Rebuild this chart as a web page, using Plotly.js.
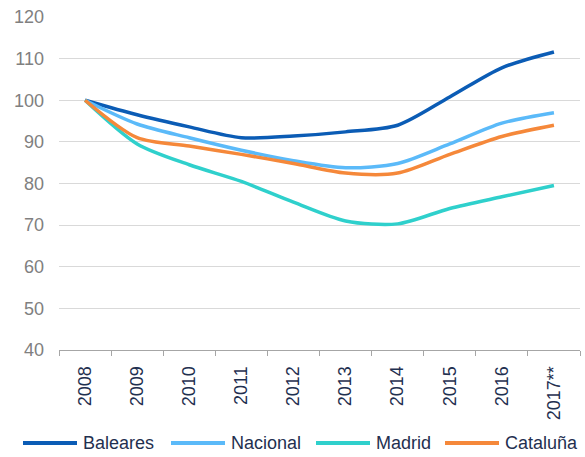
<!DOCTYPE html>
<html>
<head>
<meta charset="utf-8">
<script src="https://cdn.plot.ly/plotly-3.0.1.min.js"></script>
<style>html,body{margin:0;padding:0;background:#fff;}#chart{width:585px;height:457px;}</style>
</head>
<body>
<div id="chart"></div>
<script>
const years = ["2008","2009","2010","2011","2012","2013","2014","2015","2016","2017**"];
const baleares = [100, 96.5, 93.6, 91.0, 91.4, 92.4, 94.0, 100.8, 107.8, 111.6];
const nacional = [100, 94.3, 91.0, 88.0, 85.5, 83.8, 84.8, 89.5, 94.5, 97.0];
const madrid = [100, 89.5, 84.5, 80.5, 75.5, 71.0, 70.3, 74.0, 76.8, 79.5];
const cataluna = [100, 91.0, 89.0, 87.0, 84.8, 82.5, 82.5, 87.0, 91.3, 94.0];

const names = ["Baleares","Nacional","Madrid","Cataluña"];
const series = [baleares, nacional, madrid, cataluna];
const colors = ["#0b5cb5","#5bbaf9","#2fd0cc","#f5883a"];

const traces = series.map((s,i)=>({
  x: years, y: s, name: names[i], type: 'scatter', mode: 'lines',
  line: {color: colors[i], width: 3.5, shape: 'spline', smoothing: 0.8},
  hoverinfo: 'skip', showlegend: false
}));

// custom legend layout (pixel positions converted to paper coords)
const W = 585, H = 457, ML = 59, MR = 5, MT = 17, MB = 107;
const pw = W - ML - MR, ph = H - MT - MB;
const px = v => (v - ML) / pw;
const py = v => (H - MB - v) / ph;
const legStarts = [23, 171, 316, 445];
const legY = 443;
const shapes = [], annotations = [];
names.forEach((n, i) => {
  shapes.push({type: 'line', xref: 'paper', yref: 'paper',
    x0: px(legStarts[i]), x1: px(legStarts[i] + 54), y0: py(legY), y1: py(legY),
    line: {color: colors[i], width: 4}});
  annotations.push({xref: 'paper', yref: 'paper', x: px(legStarts[i] + 58), y: py(legY),
    xanchor: 'left', yanchor: 'middle', text: n, showarrow: false,
    font: {size: 18, color: '#1f3050'}});
});

const layout = {
  width: W, height: H,
  margin: {l: ML, r: MR, t: MT, b: MB},
  paper_bgcolor: '#fff', plot_bgcolor: '#fff',
  font: {family: 'Liberation Sans, Arial, sans-serif'},
  showlegend: false,
  shapes: shapes, annotations: annotations,
  xaxis: {
    type: 'category', range: [-0.5, 9.5], tickangle: -90, tickson: 'boundaries', ticks: 'outside',
    ticklen: 5, tickcolor: '#a6a6a6', showline: true, linecolor: '#a6a6a6', linewidth: 1,
    showgrid: false, tickfont: {size: 18, color: '#1f3050'}, ticklabelstandoff: 8,
    automargin: false, fixedrange: true
  },
  yaxis: {
    range: [40, 120], dtick: 10, tick0: 40, showgrid: true, gridcolor: '#d9d9d9', gridwidth: 1,
    zeroline: false, showline: false, ticks: '', ticklabelstandoff: 14,
    tickfont: {size: 18, color: '#808080'}, automargin: false, fixedrange: true
  }
};

Plotly.newPlot('chart', traces, layout, {displayModeBar: false, staticPlot: true});
</script>
</body>
</html>
